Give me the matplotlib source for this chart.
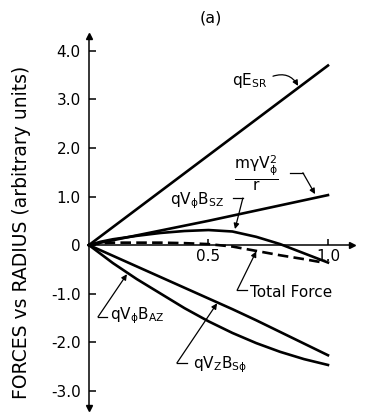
import matplotlib
matplotlib.use("Agg")
import matplotlib.pyplot as plt

plt.rcParams['font.family'] = ['DejaVu Sans']
plt.rcParams['mathtext.default'] = 'regular'

# values (radius in units of outer radius)
r_esr = [0, 1.0]
f_esr = [0, 3.7]

r_cent = [0, 0.5, 1.0]
f_cent = [0, 0.5, 1.03]

r_bsz = [0, 0.05, 0.1, 0.2, 0.3, 0.4, 0.5, 0.6, 0.7, 0.8, 0.9, 1.0]
f_bsz = [0, 0.07, 0.12, 0.19, 0.25, 0.29, 0.31, 0.28, 0.17, 0.02, -0.17, -0.36]

r_total = [0, 0.05, 0.1, 0.2, 0.3, 0.4, 0.5, 0.6, 0.7, 0.8, 0.9, 0.98]
f_total = [0, 0.04, 0.05, 0.05, 0.05, 0.04, 0.02, -0.03, -0.12, -0.21, -0.29, -0.36]

r_neg = [0, 0.1, 0.2, 0.3, 0.4, 0.5, 0.6, 0.7, 0.8, 0.9, 1.0]
f_bsphi = [0, -0.22, -0.44, -0.66, -0.88, -1.10, -1.32, -1.55, -1.79, -2.03, -2.27]
f_baz = [0, -0.37, -0.70, -1.00, -1.30, -1.57, -1.81, -2.02, -2.20, -2.35, -2.47]

yticks = [4, 3, 2, 1, 0, -1, -2, -3]
yticklabels = ['4.0', '3.0', '2.0', '1.0', '0', '-1.0', '-2.0', '-3.0']
xticks = [0.5, 1.0]
xticklabels = ['0.5', '1.0']

fig = plt.figure(figsize=(3.71, 4.13), dpi=100)
ax = fig.add_axes([0, 0, 1, 1])
ax.set_xlim(-0.372, 1.18)
ax.set_ylim(-3.46, 5.05)

lw = 1.9
ax.plot(r_esr, f_esr, color='black', lw=lw)
ax.plot(r_cent, f_cent, color='black', lw=lw)
ax.plot(r_bsz, f_bsz, color='black', lw=lw)
ax.plot(r_total, f_total, color='black', lw=lw, linestyle=(0, (4, 2)))
ax.plot(r_neg, f_bsphi, color='black', lw=lw)
ax.plot(r_neg, f_baz, color='black', lw=lw)

# axes through the origin with arrow heads
for s in ['top', 'right']:
    ax.spines[s].set_visible(False)
ax.spines['left'].set_position(('data', 0))
ax.spines['bottom'].set_position(('data', 0))
ax.spines['left'].set_bounds(-3.35, 4.3)
ax.spines['bottom'].set_bounds(0, 1.1)
ax.spines['left'].set_linewidth(1.1)
ax.spines['bottom'].set_linewidth(1.1)
ax.plot([0], [4.3], marker='^', color='black', ms=5, clip_on=False)
ax.plot([0], [-3.35], marker='v', color='black', ms=5, clip_on=False)
ax.plot([1.1], [0], marker='>', color='black', ms=5, clip_on=False)

ax.set_yticks(yticks)
ax.set_yticklabels(yticklabels)
ax.set_xticks(xticks)
ax.set_xticklabels(xticklabels)
ax.tick_params(axis='y', direction='in', length=5, width=1.1, pad=6, labelsize=11)
ax.tick_params(axis='x', direction='in', length=4, width=1.1, pad=3, labelsize=11)

ax.text(0.51, 4.68, '(a)', ha='center', va='center', fontsize=11.5)
ax.text(-0.28, 0.27, 'FORCES vs RADIUS (arbitrary units)', rotation=90,
        ha='center', va='center', fontsize=13.5)

arrow = dict(arrowstyle='-|>', color='black', lw=0.9, mutation_scale=8,
             shrinkA=0, shrinkB=0)

# qE_SR
ax.text(0.60, 3.40, r'$qE_{SR}$', ha='left', va='center', fontsize=11)
ax.annotate('', xy=(0.875, 3.28), xytext=(0.77, 3.48),
            arrowprops=dict(arrow, connectionstyle='arc3,rad=-0.4'))

# m gamma V^2 / r
ax.text(0.70, 1.49, r'$\frac{m\gamma V_{\phi}^{2}}{r}$', ha='center', va='center', fontsize=16)
ax.plot([0.841, 0.895], [1.49, 1.49], color='black', lw=0.9)
ax.annotate('', xy=(0.946, 1.05), xytext=(0.895, 1.49), arrowprops=arrow)

# qV_phi B_SZ
ax.text(0.45, 0.91, r'$qV_{\phi}B_{SZ}$', ha='center', va='center', fontsize=11)
ax.plot([0.603, 0.644], [0.97, 0.97], color='black', lw=0.9)
ax.annotate('', xy=(0.611, 0.33), xytext=(0.644, 0.97), arrowprops=arrow)

# Total Force
ax.text(0.675, -0.97, 'Total Force', ha='left', va='center', fontsize=11)
ax.plot([0.62, 0.66], [-0.93, -0.93], color='black', lw=0.9)
ax.annotate('', xy=(0.70, -0.13), xytext=(0.62, -0.93), arrowprops=arrow)

# qV_phi B_AZ
ax.text(0.088, -1.46, r'$qV_{\phi}B_{AZ}$', ha='left', va='center', fontsize=11)
ax.plot([0.038, 0.075], [-1.48, -1.48], color='black', lw=0.9)
ax.annotate('', xy=(0.159, -0.60), xytext=(0.038, -1.48), arrowprops=arrow)

# qV_Z B_S phi
ax.text(0.435, -2.47, r'$qV_{Z}B_{S\phi}$', ha='left', va='center', fontsize=11)
ax.plot([0.368, 0.41], [-2.43, -2.43], color='black', lw=0.9)
ax.annotate('', xy=(0.536, -1.20), xytext=(0.368, -2.43), arrowprops=arrow)

fig.savefig('out.png', dpi=100)
